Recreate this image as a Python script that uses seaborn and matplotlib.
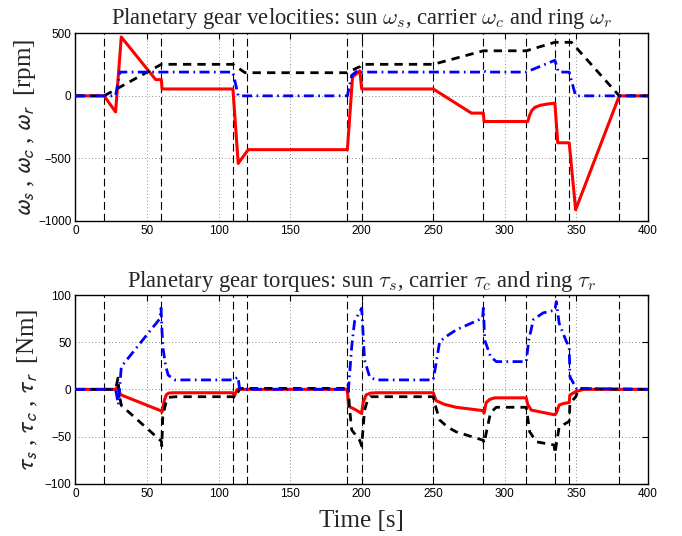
import matplotlib
matplotlib.use("Agg")
import matplotlib.pyplot as plt
import seaborn as sns
import numpy as np

# ---------------- data ----------------
events = [20, 60, 110, 120, 190, 200, 250, 285, 315, 335, 345, 380]

# velocities [rpm]
t_ws = [0, 20, 28, 32, 56, 60, 60.5, 110, 113.7, 120.7, 190, 193.6, 198.7, 200, 250, 276.7,
        285, 285.5, 316, 317.5, 319, 321, 325, 330, 335, 337, 345, 349.5, 380, 400]
ws = [0, 0, -128, 470, 130, 130, 55, 55, -540, -430, -430, 150, 200, 55, 55, -138,
      -138, -205, -205, -150, -115, -92, -75, -65, -58, -375, -375, -910, 0, 0]

t_wc = [0, 20, 60, 110, 113, 118.5, 190, 197, 199, 200, 250, 285, 315, 335, 346.6, 380, 400]
wc = [0, 0, 252, 252, 228, 185, 185, 225, 235, 252, 252, 360, 360, 428, 428, 0, 0]

t_wr = [0, 28, 31, 110, 113.7, 190, 193, 197.5, 200, 284, 285.5, 287, 315, 335, 337.5,
        345, 349.5, 400]
wr = [0, 0, 190, 190, 0, 0, 164, 204, 190, 190, 198, 190, 190, 284, 190, 190, 0, 0]

# torques [Nm]
t_ts = [0, 28, 29.5, 30.5, 32, 59.5, 60.5, 62, 63.4, 65, 68, 110, 111, 113, 190, 190.8, 195,
        199.9, 201, 203, 206, 210, 250, 252, 258, 266, 285, 285.5, 287, 289.5, 293, 315, 316,
        318.5, 335, 336, 338, 341, 345, 345.5, 349.5, 355, 400]
ts = [0, 0, 3, -3, -6, -22.6, -24, -12, -6, -4, -3.6, -3.6, -7, 0, 0, -18, -21,
      -25.5, -14, -6, -4, -3.6, -3.6, -12, -16, -19, -22.6, -25, -14, -10.6, -9, -9, -16,
      -22, -27, -25, -16.6, -15, -14, -6, -2.5, 0, 0]

t_tc = [0, 28, 29.7, 30.5, 32, 60, 60.3, 61, 63, 65, 70, 110, 111.5, 113.5, 115, 190, 190.5,
        191.5, 193, 198.6, 200, 202, 204, 206, 250, 252, 254.5, 260, 266, 285, 285.5, 290,
        294, 315, 317.4, 322, 334.5, 335, 338, 345, 345.5, 349.5, 352, 360, 400]
tc = [0, 0, 12, -5, -17, -55, -60, -29, -15, -8.5, -7.8, -7.8, -9, -3, 1, 1, 5,
      -20, -43, -54, -60, -22, -12, -7.8, -7.8, -20, -32.5, -40, -45, -54, -57, -25,
      -19, -19, -45, -55.6, -59, -68, -40, -34, -15, -8, 1, 0.5, 0]

t_tr = [0, 28, 30, 32, 59, 59.8, 60.5, 61.3, 63, 64.8, 69.5, 110, 113.7, 114.5, 116, 190,
        190.5, 193, 195, 200, 202, 205.6, 210, 250, 252, 254.5, 260, 266, 284.5, 285, 286,
        290, 294, 315, 316.7, 320, 326.7, 335, 336, 338, 343, 345, 345.5, 348, 350, 400]
tr = [0, 0, -16, 24, 75, 86, 60, 42, 25, 15, 10, 10, 13, 2, 0, 0,
      -5, 45, 72, 86, 31, 13, 10, 10, 27.7, 50.7, 57, 63, 75.5, 86, 52,
      35, 29.4, 29.4, 52, 74, 81, 84, 93, 70, 50.7, 45, 13.5, 6.4, 1, 0]

x_ticks = [0, 50, 100, 150, 200, 250, 300, 350, 400]
y_ticks_top = [-1000, -500, 0, 500]
y_ticks_bot = [-100, -50, 0, 50, 100]

# ---------------- style ----------------
sns.set_style("white")
plt.rcParams["font.family"] = ["Liberation Sans", "DejaVu Sans"]
plt.rcParams["mathtext.fontset"] = "cm"

fig = plt.figure(figsize=(6.82, 5.36), dpi=100)
ax1 = fig.add_axes([0.1107, 0.5877, 0.8393, 0.3502])
ax2 = fig.add_axes([0.1107, 0.0976, 0.8393, 0.3520])

RED, BLK, BLU = "#ff0000", "#000000", "#0000ff"


def draw(ax, series, yticks, ylim):
    for e in events:
        ax.axvline(e, color="black", lw=0.8, dashes=(7, 3.5), zorder=1)
    for (t, v, c, ls) in series:
        kw = dict(x=t, y=v, ax=ax, color=c, sort=False, estimator=None, legend=False)
        if ls == "solid":
            sns.lineplot(**kw, lw=2.2, zorder=3)
        elif ls == "dashed":
            l = sns.lineplot(**kw, lw=2.0, zorder=4)
            l.lines[-1].set_dashes((3.0, 2.2))
        else:
            l = sns.lineplot(**kw, lw=2.0, zorder=5)
            l.lines[-1].set_dashes((3.6, 1.6, 0.6, 1.6))
    ax.set_xlim(0, 400)
    ax.set_ylim(*ylim)
    ax.set_xticks(x_ticks)
    ax.set_yticks(yticks)
    ax.set_xticklabels([str(x) for x in x_ticks])
    ax.set_yticklabels([str(y).replace("-", "\u2212") for y in yticks])
    ax.grid(True, color="#666666", ls=(0, (1, 3)), lw=0.6)
    ax.tick_params(direction="in", length=4, width=0.8, top=True, right=True,
                   labelsize=8.5, pad=3, colors="black")
    for s in ax.spines.values():
        s.set_visible(True)
        s.set_color("black")
        s.set_linewidth(1.0)
    ax.set_xlabel("")
    ax.set_ylabel("")


draw(ax1, [(t_wr, wr, BLU, "dashdot"), (t_wc, wc, BLK, "dashed"), (t_ws, ws, RED, "solid")],
     y_ticks_top, (-1000, 500))
draw(ax2, [(t_tr, tr, BLU, "dashdot"), (t_tc, tc, BLK, "dashed"), (t_ts, ts, RED, "solid")],
     y_ticks_bot, (-100, 100))

tfont = dict(family="Liberation Serif", size=16.3)
ax1.set_title(r"Planetary gear velocities: sun $\omega_s$, carrier $\omega_c$ and ring $\omega_r$",
              fontdict=tfont, pad=7)
ax2.set_title(r"Planetary gear torques: sun $\tau_s$, carrier $\tau_c$ and ring $\tau_r$",
              fontdict=tfont, pad=6)
ax1.set_ylabel(r"$\omega_s$ , $\omega_c$ , $\omega_r$  [rpm]", family="Liberation Serif",
               size=18, math_fontfamily="stixsans", labelpad=0)
ax2.set_ylabel(r"$\tau_s$ , $\tau_c$ , $\tau_r$  [Nm]", family="Liberation Serif",
               size=18, math_fontfamily="stixsans", labelpad=3)
ax2.set_xlabel("Time [s]", family="Liberation Serif", size=18, labelpad=7)

fig.savefig("out.png", dpi=100, facecolor="white")
